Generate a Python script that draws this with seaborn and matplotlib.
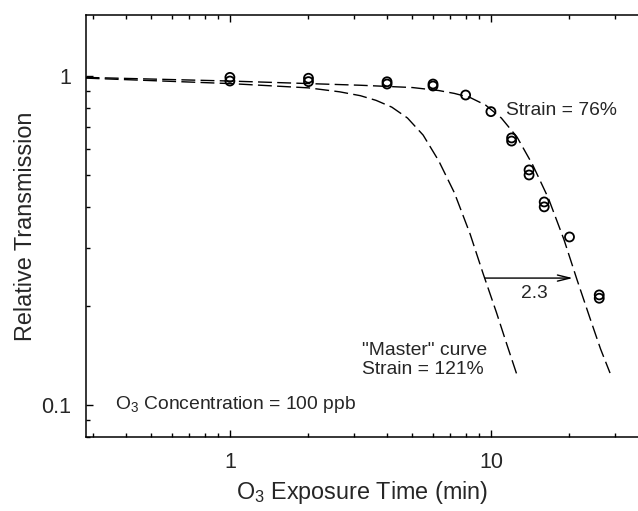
import numpy as np
import pandas as pd
import matplotlib
matplotlib.use("Agg")
import matplotlib.pyplot as plt
import matplotlib.ticker as mticker
import seaborn as sns

# ---- data ----
# measured points (Strain = 76%)
meas_t = [1, 1, 2, 2, 4, 4, 6, 6, 8, 10, 12, 12, 14, 14, 16, 16, 20, 26, 26]
meas_T = [0.99, 0.965, 0.984, 0.961, 0.96, 0.945, 0.945, 0.932, 0.875, 0.779,
          0.648, 0.634, 0.518, 0.500, 0.414, 0.400, 0.324, 0.216, 0.211]

# "Master" curve (Strain = 121%)
master_t = [0.28, 1.0, 2.0, 2.63, 3.16, 3.63, 4.17, 4.79, 5.50, 6.31, 7.24,
            8.32, 9.33, 10.5, 11.5, 12.6]
master_T = [0.985, 0.948, 0.920, 0.895, 0.871, 0.843, 0.804, 0.745, 0.661,
            0.552, 0.442, 0.331, 0.251, 0.191, 0.153, 0.123]

# shifted curve (Strain = 76%)
shift_t = [0.28, 1.0, 2.0, 3.16, 5.01, 6.31, 7.24, 8.32, 9.55, 10.96, 12.59,
           14.45, 16.6, 19.05, 21.38, 23.99, 26.3, 28.6]
shift_T = [0.99, 0.965, 0.948, 0.937, 0.922, 0.903, 0.885, 0.860, 0.815,
           0.745, 0.652, 0.537, 0.425, 0.318, 0.240, 0.183, 0.148, 0.125]

shift_factor_label = "2.3"
arrow_x = [9.49, 20.6]
arrow_y = 0.243

x_ticks = [1, 10]
y_ticks = [0.1, 1]

# ---- style ----
sns.set_style("ticks")
plt.rcParams["font.family"] = ["Liberation Sans", "DejaVu Sans"]
plt.rcParams["mathtext.fontset"] = "custom"
plt.rcParams["mathtext.rm"] = "Liberation Sans"
plt.rcParams["mathtext.it"] = "Liberation Sans"
plt.rcParams["mathtext.default"] = "regular"

fig = plt.figure(figsize=(6.38, 5.11), dpi=100)
ax = fig.add_axes([86 / 638, (511 - 437) / 511, (638 - 86) / 638, (437 - 15) / 511])

df_master = pd.DataFrame({"t": master_t, "T": master_T})
df_shift = pd.DataFrame({"t": shift_t, "T": shift_T})
df_meas = pd.DataFrame({"t": meas_t, "T": meas_T})

dash = (0, (10, 3.8))
sns.lineplot(data=df_master, x="t", y="T", ax=ax, color="black", lw=1.0,
             linestyle=dash, sort=False, estimator=None)
sns.lineplot(data=df_shift, x="t", y="T", ax=ax, color="black", lw=1.0,
             linestyle=dash, sort=False, estimator=None)
sns.scatterplot(data=df_meas, x="t", y="T", ax=ax, marker="o", s=42,
                linewidth=1.3, zorder=5)
for coll in ax.collections:
    coll.set_facecolor("none")
    coll.set_edgecolor("black")

ax.set_xscale("log")
ax.set_yscale("log")
ax.set_xlim(0.281, 36.6)
ax.set_ylim(0.0799, 1.532)

ax.xaxis.set_major_locator(mticker.FixedLocator(x_ticks))
ax.yaxis.set_major_locator(mticker.FixedLocator(y_ticks))
ax.xaxis.set_minor_locator(mticker.LogLocator(base=10, subs=np.arange(2, 10), numticks=20))
ax.yaxis.set_minor_locator(mticker.LogLocator(base=10, subs=np.arange(2, 10), numticks=20))
ax.xaxis.set_major_formatter(mticker.FormatStrFormatter("%g"))
ax.yaxis.set_major_formatter(mticker.FormatStrFormatter("%g"))
ax.xaxis.set_minor_formatter(mticker.NullFormatter())
ax.yaxis.set_minor_formatter(mticker.NullFormatter())

ax.tick_params(which="both", direction="in", top=True, right=False,
               color="black", width=1.0)
ax.tick_params(which="major", length=5.2, labelsize=15.5, pad=10.5)
ax.tick_params(which="minor", length=3.0)

for s in ["left", "top", "bottom"]:
    ax.spines[s].set_linewidth(1.1)
    ax.spines[s].set_color("black")
ax.spines["right"].set_visible(False)

ax.set_xlabel("O$_3$ Exposure Time (min)", fontsize=16.8)
ax.set_ylabel("Relative Transmission", fontsize=16.8)
ax.xaxis.set_label_coords(0.5, -0.1)
ax.yaxis.set_label_coords(-0.088, 0.5)

fs = 13.9
ax.text(11.4, 0.783, "Strain = 76%", fontsize=fs, ha="left", va="center")
ax.text(3.2, 0.137, "\"Master\" curve\nStrain = 121%", fontsize=fs,
        ha="left", va="center", linespacing=1.2)
ax.text(0.362, 0.1, "O$_3$ Concentration = 100 ppb", fontsize=fs,
        ha="left", va="center")
ax.text(14.7, 0.218, shift_factor_label, fontsize=fs, ha="center", va="center")
ax.annotate("", xy=(arrow_x[1], arrow_y), xytext=(arrow_x[0], arrow_y),
            arrowprops=dict(arrowstyle="->,head_length=0.9,head_width=0.22",
                            color="black", lw=1.0, shrinkA=0, shrinkB=0))

fig.savefig("out.png", dpi=100)
